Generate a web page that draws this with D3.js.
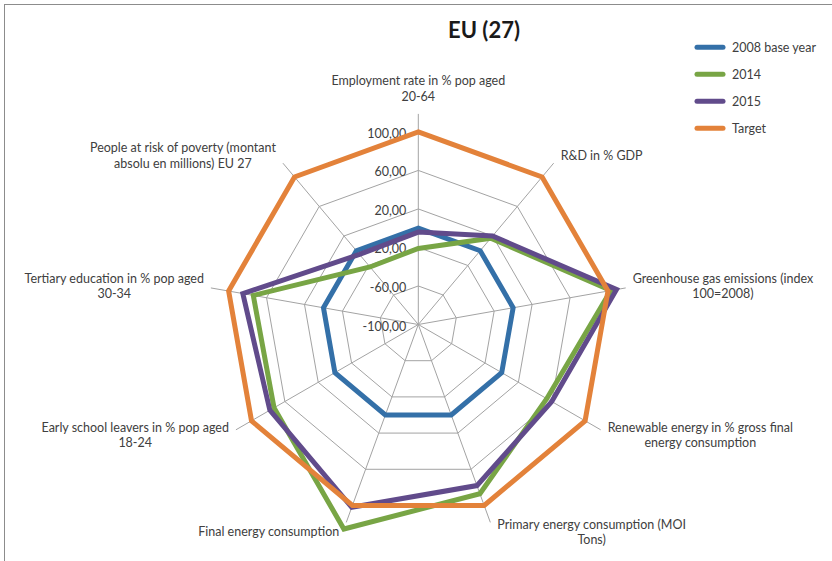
<!DOCTYPE html>
<html>
<head>
<meta charset="utf-8">
<script src="https://cdn.jsdelivr.net/npm/d3@7"></script>
<style>
  body { margin: 0; background: #fff; }
  svg { display: block; }
  text { font-family: Lato, "Open Sans", sans-serif; }
</style>
</head>
<body>
<svg id="chart" width="832" height="561"></svg>
<script>
// Axis categories (each entry = wrapped label lines), clockwise from the top
const categories = [
  ["Employment rate in % pop aged", "20-64"],
  ["R&D in % GDP"],
  ["Greenhouse gas emissions (index", "100=2008)"],
  ["Renewable energy in % gross final", "energy consumption"],
  ["Primary energy consumption (MOI", "Tons)"],
  ["Final energy consumption"],
  ["Early school leavers in % pop aged", "18-24"],
  ["Tertiary education in % pop aged", "30-34"],
  ["People at risk of poverty (montant", "absolu en millions) EU 27"]
];

// Series values (index, 2008 = 0, target = 100)
const seriesNames = ["2008 base year", "2014", "2015", "Target"];
const base2008   = [0, 0, 0, 0, 0, 0, 0, 0, 0];
const values2014 = [-21, 17, 103, 54, 87, 126, 73, 74, -22];
const values2015 = [-4, 20, 109, 60, 78, 102, 78, 85, -5];
const target     = [100, 100, 100, 100, 100, 100, 100, 100, 100];

// Radial axis ticks
const tickValues = [-100, -60, -20, 20, 60, 100];
const tickLabels = ["-100,00", "-60,00", "-20,00", "20,00", "60,00", "100,00"];

const colors = ["#3470a8", "#78a545", "#614b8b", "#e3823a"];
const series = [base2008, values2014, values2015, target];

const svg = d3.select("#chart");
const cx = 418.3, cy = 324.5;
const r = d3.scaleLinear().domain([-100, 100]).range([0, 192.6]);
const spokeLen = r(100) + 18;
const n = categories.length;
const angle = d3.scaleLinear().domain([0, n]).range([0, 2 * Math.PI]);

const pt = (i, rad) => [cx + rad * Math.sin(angle(i)), cy - rad * Math.cos(angle(i))];

// Outer frame
svg.append("rect")
  .attr("x", 4.5).attr("y", 4.5).attr("width", 900).attr("height", 700)
  .attr("fill", "none").attr("stroke", "#8c8c8c").attr("stroke-width", 1);

const g = svg.append("g");

// Grid rings
tickValues.filter(v => v > -100).forEach(v => {
  g.append("path")
    .attr("d", d3.line()(d3.range(n).map(i => pt(i, r(v)))) + "Z")
    .attr("fill", "none").attr("stroke", "#a3a3a3").attr("stroke-width", 1);
});

// Spokes
d3.range(n).forEach(i => {
  const [x2, y2] = pt(i, spokeLen);
  g.append("line")
    .attr("x1", cx).attr("y1", cy).attr("x2", x2).attr("y2", y2)
    .attr("stroke", "#a3a3a3").attr("stroke-width", 1);
});

// Radial tick labels
tickValues.forEach((v, k) => {
  g.append("text")
    .attr("x", cx - 12).attr("y", cy - r(v) + 1.5)
    .attr("text-anchor", "end").attr("dominant-baseline", "central")
    .attr("font-size", 12.5).attr("fill", "#404040")
    .text(tickLabels[k]);
});

// Series polygons
const radarLine = d3.lineRadial()
  .angle((d, i) => angle(i))
  .radius(d => r(d))
  .curve(d3.curveLinearClosed);

series.forEach((vals, s) => {
  g.append("path")
    .attr("transform", `translate(${cx},${cy})`)
    .attr("d", radarLine(vals))
    .attr("fill", "none")
    .attr("stroke", colors[s])
    .attr("stroke-width", 5)
    .attr("stroke-linejoin", "miter");
});

// Category labels
const lineH = 15.4;
categories.forEach((lines, i) => {
  const a = angle(i);
  const sx = Math.sin(a), cs = Math.cos(a);
  const [ex, ey] = pt(i, spokeLen);
  const t = g.append("text")
    .attr("font-size", 12.5).attr("fill", "#404040")
    .attr("text-anchor", "middle");
  const spans = lines.map(l => t.append("tspan").text(l));
  const widths = spans.map(s => s.node().getComputedTextLength());
  const w = d3.max(widths);
  let x, yCenter;
  if (Math.abs(sx) < 0.1) {
    x = ex;
    yCenter = ey - 10 - (lines.length * lineH) / 2;
  } else {
    x = sx > 0 ? ex + 7 + w / 2 : ex - 7 - w / 2;
    yCenter = ey - cs * 10;
  }
  spans.forEach((s, k) => {
    s.attr("x", x)
     .attr("y", yCenter + (k - (lines.length - 1) / 2) * lineH)
     .attr("dominant-baseline", "central");
  });
});

// Title
svg.append("text")
  .attr("x", 484).attr("y", 29)
  .attr("text-anchor", "middle").attr("dominant-baseline", "central")
  .attr("font-size", 22).attr("font-weight", "bold").attr("fill", "#1a1a1a")
  .text("EU (27)");

// Legend
const legend = svg.append("g");
seriesNames.forEach((name, s) => {
  const y = 47.3 + s * 27;
  legend.append("line")
    .attr("x1", 697).attr("x2", 723).attr("y1", y).attr("y2", y)
    .attr("stroke", colors[s]).attr("stroke-width", 5).attr("stroke-linecap", "round");
  legend.append("text")
    .attr("x", 732).attr("y", y)
    .attr("dominant-baseline", "central")
    .attr("font-size", 12.5).attr("fill", "#404040")
    .text(name);
});
</script>
</body>
</html>
